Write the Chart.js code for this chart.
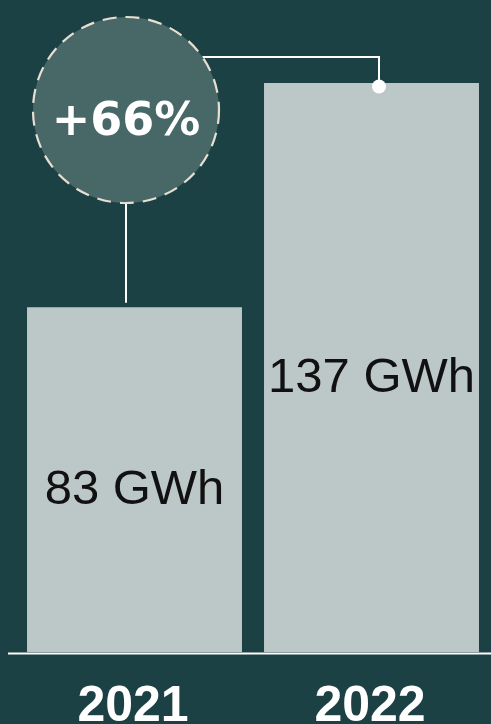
<!DOCTYPE html>
<html>
<head>
<meta charset="utf-8">
<script src="https://cdn.jsdelivr.net/npm/chart.js@4/dist/chart.umd.min.js"></script>
<style>
  html, body { margin: 0; padding: 0; background: #1c4144; }
  #wrap { width: 491px; height: 724px; }
</style>
</head>
<body>
<div id="wrap"><canvas id="c" width="491" height="724"></canvas></div>
<script>
const categories = ['2021', '2022'];
const values = [83, 137];
const unitLabel = 'GWh';
const growthLabel = '+66%';

const BG = '#1c4144';
const BAR = '#bcc8c7';
const CIRCLE_FILL = '#486868';
const DASH = '#e8dfd3';

const decor = {
  id: 'decor',
  beforeDraw(chart) {
    const ctx = chart.ctx;
    ctx.save();
    ctx.fillStyle = BG;
    ctx.fillRect(0, 0, chart.width, chart.height);
    ctx.restore();
  },
  afterDatasetsDraw(chart) {
    const ctx = chart.ctx;
    const meta = chart.getDatasetMeta(0);
    const ys = chart.scales.y;
    const area = chart.chartArea;
    const base = ys.getPixelForValue(0);
    ctx.save();

    // baseline
    ctx.strokeStyle = '#ffffff';
    ctx.lineWidth = 2;
    ctx.beginPath();
    ctx.moveTo(8, base + 1.5);
    ctx.lineTo(chart.width, base + 1.5);
    ctx.stroke();

    // value labels inside bars
    ctx.fillStyle = '#111111';
    ctx.font = '49px "Liberation Sans", Arial, sans-serif';
    ctx.textAlign = 'center';
    ctx.textBaseline = 'alphabetic';
    meta.data.forEach((bar, i) => {
      const mid = (bar.y + bar.base) / 2;
      ctx.fillText(values[i] + ' ' + unitLabel, bar.x, mid + 24);
    });

    // category labels
    ctx.fillStyle = '#ffffff';
    ctx.font = 'bold 50px "Liberation Sans", Arial, sans-serif';
    meta.data.forEach((bar, i) => {
      ctx.fillText(categories[i], bar.x - 1.5, base + 69);
    });

    // growth annotation
    const b0 = meta.data[0], b1 = meta.data[1];
    const cx = b0.x - 8.5;
    const cy = area.top + 110;
    const r = 93;
    const dotX = b1.x + 7.5;
    const dotY = ys.getPixelForValue(values[1]) + 3.5;
    const lineY = cy - 53;

    ctx.strokeStyle = '#ffffff';
    ctx.lineWidth = 2;
    ctx.beginPath();
    ctx.moveTo(cx, cy + r);
    ctx.lineTo(cx, ys.getPixelForValue(values[0]) - 4.5);
    ctx.stroke();
    ctx.beginPath();
    ctx.moveTo(cx + Math.sqrt(r * r - 53 * 53), lineY);
    ctx.lineTo(dotX, lineY);
    ctx.lineTo(dotX, dotY);
    ctx.stroke();
    ctx.fillStyle = '#ffffff';
    ctx.beginPath();
    ctx.arc(dotX, dotY, 7, 0, Math.PI * 2);
    ctx.fill();

    ctx.fillStyle = CIRCLE_FILL;
    ctx.beginPath();
    ctx.arc(cx, cy, r, 0, Math.PI * 2);
    ctx.fill();
    ctx.strokeStyle = DASH;
    ctx.lineWidth = 2.2;
    ctx.setLineDash([14, 9]);
    ctx.stroke();
    ctx.setLineDash([]);

    ctx.fillStyle = '#ffffff';
    ctx.font = 'bold 46px "DejaVu Sans", sans-serif';
    ctx.textAlign = 'center';
    ctx.fillText(growthLabel, cx, cy + 25);
    ctx.restore();
  }
};

new Chart(document.getElementById('c'), {
  type: 'bar',
  data: {
    labels: categories,
    datasets: [{
      data: values,
      backgroundColor: BAR,
      borderWidth: 0,
      barPercentage: 0.907,
      categoryPercentage: 1.0
    }]
  },
  options: {
    responsive: false,
    devicePixelRatio: 1,
    animation: false,
    layout: { padding: { left: 16, right: 1, top: 0, bottom: 72 } },
    plugins: { legend: { display: false }, tooltip: { enabled: false } },
    scales: {
      x: { display: false },
      y: { display: false, min: 0, max: 157 }
    }
  },
  plugins: [decor]
});
</script>
</body>
</html>
